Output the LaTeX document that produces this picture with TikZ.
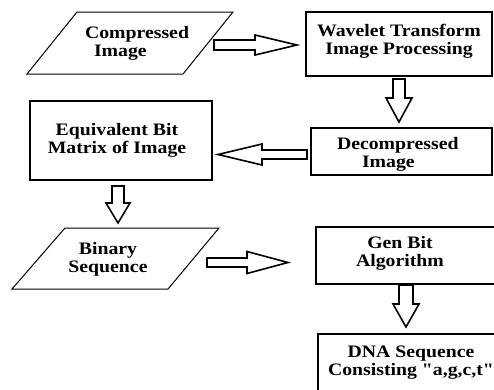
\documentclass[tikz,border=0pt]{standalone}
\usepackage{fontspec}
\newfontfamily\dfont{Liberation Serif}[FakeStretch=1.13]
\usetikzlibrary{calc}
\tikzset{
  boxline/.style={draw=black, line width=2.4pt},
  paraline/.style={draw=black, line width=1pt, line join=miter},
  arrowline/.style={draw=black, fill=white, line width=1.6pt, line join=miter},
  lbl/.style={inner sep=0pt, outer sep=0pt, align=center, text=black,
    font=\dfont\bfseries\fontsize{17.5}{18}\selectfont},
}
% #1 start, #2 tip, #3 direction, #4 perpendicular, #5 shaft half, #6 head half, #7 head length
\newcommand\blockarr[7]{%
  \draw[arrowline] ($(#1)+#5*#4$) -- ($(#2)-#7*#3+#5*#4$) -- ($(#2)-#7*#3+#6*#4$)
    -- (#2) -- ($(#2)-#7*#3-#6*#4$) -- ($(#2)-#7*#3-#5*#4$) -- ($(#1)-#5*#4$) -- cycle;}
\begin{document}
\begin{tikzpicture}[x=1pt, y=-1pt]
\useasboundingbox (0,0) rectangle (494,389);
\clip (0,0) rectangle (494,389);
\fill[white] (0,0) rectangle (494,389);

% shapes
\draw[paraline] (77,12) -- (233,12) -- (183,74) -- (27,74) -- cycle;
\draw[boxline] (306,12) rectangle (492,76);
\draw[boxline] (30,101) rectangle (212,180);
\draw[boxline] (311,128) rectangle (492,175);
\draw[paraline] (65,228) -- (219,228) -- (168,289) -- (12,289) -- cycle;
\draw[boxline] (316,227) rectangle (520,284);
\draw[boxline] (318,334) rectangle (520,420);

% texts
\node[lbl, align=left, anchor=west] (ci) at (85,43.4) {\strut Compressed\\\strut\hspace*{9pt}Image};
\node[lbl] (wt) at (399,41.4) {\strut Wavelet Transform\\\strut Image Processing};
\node[lbl] (eq) at (117,140.4) {\strut Equivalent Bit\\\strut Matrix of Image};
\node[lbl, align=left, anchor=west] (dc) at (337,154.4) {\strut Decompressed\\\strut\hspace*{25pt}Image};
\node[lbl] (bs) at (108,259.4) {\strut Binary\\\strut Sequence};
\node[lbl] (gb) at (400,253.4) {\strut Gen Bit\\\strut Algorithm};
\node[lbl] (dna) at (411,362.4) {\strut DNA Sequence\\\strut Consisting "a,g,c,t"};

% connector end points
\coordinate (a1s) at (214,45);    \coordinate (a1e) at (297,45);
\coordinate (a2s) at (399,79);    \coordinate (a2e) at (399,122);
\coordinate (a3s) at (307,154.5); \coordinate (a3e) at (218,154.5);
\coordinate (a4s) at (118,186);   \coordinate (a4e) at (118,223);
\coordinate (a5s) at (207,262.5); \coordinate (a5e) at (288,262.5);
\coordinate (a6s) at (406,285);   \coordinate (a6e) at (406,327);

% block arrows
\blockarr{a1s}{a1e}{(1,0)}{(0,1)}{5}{10}{42}
\blockarr{a2s}{a2e}{(0,1)}{(1,0)}{6}{13}{24}
\blockarr{a3s}{a3e}{(-1,0)}{(0,1)}{4.5}{10.5}{44}
\blockarr{a4s}{a4e}{(0,1)}{(1,0)}{6}{12}{20}
\blockarr{a5s}{a5e}{(1,0)}{(0,1)}{4.5}{11}{41}
\blockarr{a6s}{a6e}{(0,1)}{(1,0)}{7}{13}{23}
\end{tikzpicture}
\end{document}
